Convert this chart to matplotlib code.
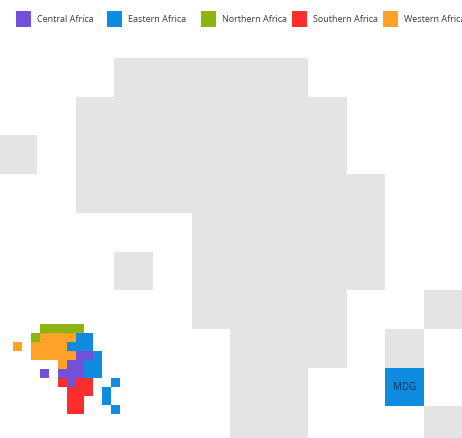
import numpy as np
import matplotlib
matplotlib.use("Agg")
import matplotlib.pyplot as plt
from matplotlib.colors import ListedColormap
from matplotlib.patches import Rectangle

plt.rcParams['font.family'] = ['Open Sans', 'DejaVu Sans']

regions = ["Central Africa", "Eastern Africa", "Northern Africa", "Southern Africa", "Western Africa"]
region_codes = ["C", "E", "N", "S", "W"]
region_colors = ["#7350D8", "#0F8BE0", "#8AB512", "#FC2D2D", "#FFA227"]
other_color = "#E4E4E4"

# Large tile map: '#' = other tile, 'E' = Eastern Africa tile
large_tiles = [
    "...#####....",
    "..#######...",
    "#.#######...",
    "..########..",
    ".....#####..",
    "...#.#####..",
    ".....####..#",
    "......###.#.",
    "......##..E.",
    "......##...#",
]
large_labels = {(8, 10): "MDG"}

# Small tile map of the region, by country tile
small_tiles = [
    "...NNNNN....",
    "..NWWWWEE...",
    "W.WWWWEEE...",
    "..WWWWWCCE..",
    ".....WCCEE..",
    "...C.CCCEE..",
    ".....SCSS..E",
    "......SSS.E.",
    "......SS..E.",
    "......SS...E",
]

W, H = 462, 439
fig = plt.figure(figsize=(W / 100, H / 100), dpi=100)
ax = fig.add_axes([0, 0, 1, 1])
ax.set_xlim(0, W)
ax.set_ylim(H, 0)
ax.axis("off")

codes = ["#"] + region_codes
cmap = ListedColormap([other_color] + region_colors)


def to_grid(rows):
    g = np.full((len(rows), len(rows[0])), np.nan)
    for r, row in enumerate(rows):
        for c, ch in enumerate(row):
            if ch in codes:
                g[r, c] = codes.index(ch)
    return np.ma.masked_invalid(g)


def draw(rows, x0, y0, size):
    g = to_grid(rows)
    xe = x0 + size * np.arange(g.shape[1] + 1)
    ye = y0 + size * np.arange(g.shape[0] + 1)
    ax.pcolormesh(xe, ye, g, cmap=cmap, vmin=-0.5, vmax=5.5, linewidth=0, antialiased=False)
    return xe, ye


xe, ye = draw(large_tiles, -1.8, 59.0, 38.7)
for (r, c), t in large_labels.items():
    ax.text((xe[c] + xe[c + 1]) / 2, (ye[r] + ye[r + 1]) / 2, t, ha="center", va="center",
            fontsize=7.0, color="#0C2F52")
draw(small_tiles, 13.0, 325.4, 8.93)

swatch_x = [16, 107, 201, 292, 383]
for x, name, col in zip(swatch_x, regions, region_colors):
    ax.add_patch(Rectangle((x, 12), 15, 16, facecolor=col, edgecolor="none"))
    ax.text(x + 21, 20.0, name, ha="left", va="center", fontsize=6.45, color="#3A3A3A", clip_on=True)

fig.savefig("out.png", dpi=100)
